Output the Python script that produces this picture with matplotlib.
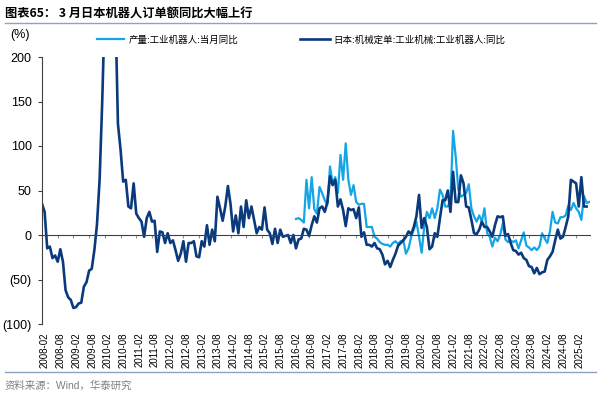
import numpy as np
import pandas as pd
import matplotlib
matplotlib.use('Agg')
import matplotlib.pyplot as plt
from matplotlib.lines import Line2D
from matplotlib.transforms import ScaledTranslation

plt.rcParams['font.family'] = ['Liberation Sans', 'Noto Sans CJK SC']

title = '图表65： 3 月日本机器人订单额同比大幅上行'
source = '资料来源：Wind，华泰研究'
light_name = '产量:工业机器人:当月同比'
dark_name = '日本:机械定单:工业机械:工业机器人:同比'

# monthly series, first month given below
dark_start = '2008-02'
light_start = '2016-03'

dark = [35, 26, -15, -13, -26, -23, -30, -16, -30, -62,
        -70, -73, -82, -81, -77, -76, -58, -53, -40, -38,
        -17, 12, 62, 150, 260, 330, 340, 310, 260, 125,
        96, 60, 62, 32, 30, 58, 24, 19, 15, -2,
        19, 26, 15, 16, -19, 4, 3, -9, 2, -9,
        -6, -17, -29, -21, -7, -30, -9, -9, -7, -24,
        -25, -7, -13, 11, -11, 6, -7, 43, 30, 16,
        32, 55, 35, 4, 22, 2, 32, 9, 39, 19,
        32, 17, 2, 9, 6, 31, 6, 2, -10, 7,
        -9, 6, -2, -1, 0, -9, 0, -15, -5, -4,
        7, 6, -1, 11, 21, 14, 30, 32, 26, 37,
        66, 56, 62, 32, 40, 28, 10, 30, 28, 29,
        19, 31, -2, 3, -11, -11, -13, -9, -15, -16,
        -22, -33, -29, -36, -28, -21, -12, -9, -6, -2,
        4, 1, 9, 21, 45, 8, 19, 9, -16, -13,
        2, -2, 19, 39, 39, 50, 26, 71, 37, 37,
        67, 58, 32, 31, 17, 2, 1, 6, 15, 9,
        9, 4, -2, 11, 21, 20, 21, -1, 1, -9,
        -17, -18, -22, -20, -26, -28, -35, -36, -43, -37,
        -44, -42, -41, -28, -24, -19, -6, 6, -4, -2,
        9, 21, 62, 60, 58, 32, 65, 32, 32]

light = [18, 19, 17, 14, 62, 30, 65, 29, 24, 54,
         47, 39, 34, 77, 58, 65, 47, 90, 62, 103,
         62, 45, 56, 37, 34, 35, 35, 9, 9, 9,
         -2, -4, -8, -10, -11, -11, -13, -9, -7, -10,
         -7, -6, -21, -15, -2, 6, 15, -2, -20, 10,
         26, 19, 30, 19, 30, 51, 45, 32, 32, 39,
         117, 88, 51, 43, 45, 47, 57, 30, 21, 15,
         22, 15, 30, 2, -2, -13, -3, -7, 0, 13,
         -5, -8, -6, -8, -6, -15, -6, 3, -12, -14,
         -17, -14, -17, -13, 2, -4, -9, 4, 26, 14,
         13, 20, 20, 22, 33, 28, 36, 30, 26, 17,
         44, 36, 37]

tick_labels = ['2008-02', '2008-08', '2009-02', '2009-08', '2010-02', '2010-08',
               '2011-02', '2011-08', '2012-02', '2012-08', '2013-02', '2013-08',
               '2014-02', '2014-08', '2015-02', '2015-08', '2016-02', '2016-08',
               '2017-02', '2017-08', '2018-02', '2018-08', '2019-02', '2019-08',
               '2020-02', '2020-08', '2021-02', '2021-08', '2022-02', '2022-08',
               '2023-02', '2023-08', '2024-02', '2024-08', '2025-02']

y_ticks = [-100, -50, 0, 50, 100, 150, 200]

base = pd.Period(dark_start, freq='M')
dark_x = np.arange(len(dark))
light_x = (pd.Period(light_start, freq='M') - base).n + np.arange(len(light))
tick_x = [(pd.Period(t, freq='M') - base).n for t in tick_labels]

fig = plt.figure(figsize=(6.01, 3.94), dpi=100)
ax = fig.add_axes([42/601, 70/394, 548/601, 267/394])

ax.plot(light_x, light, color='#14A5E6', lw=1.6, label=light_name)
ax.plot(dark_x, dark, color='#0A3A7C', lw=1.9, label=dark_name)

ax.set_xlim(0, 209.3)
ax.set_ylim(-100, 200)

ax.spines['top'].set_visible(False)
ax.spines['right'].set_visible(False)
ax.spines['left'].set_color('#404040')
ax.spines['left'].set_linewidth(0.8)
ax.spines['bottom'].set_position(('data', 0))
ax.spines['bottom'].set_color('#404040')
ax.spines['bottom'].set_linewidth(0.8)

ax.set_yticks(y_ticks)
ax.set_yticklabels([f'({-v})' if v < 0 else str(v) for v in y_ticks])
ax.tick_params(axis='y', direction='out', length=3, width=0.8, color='#404040',
               labelsize=9, pad=4.5)
ax.set_xticks(tick_x)
ax.tick_params(axis='x', direction='out', length=2.5, width=0.8, color='#909090',
               labelbottom=False)

sec = ax.secondary_xaxis(0.0)
sec.set_xticks(tick_x)
sec.set_xticklabels(tick_labels, rotation=90, fontsize=7)
sec.tick_params(length=0, pad=6)
sec.spines['bottom'].set_visible(False)
for lab in sec.get_xticklabels():
    lab.set_transform(lab.get_transform() + ScaledTranslation(3/100, 0, fig.dpi_scale_trans))

h = ax.get_lines()
fig.legend([h[0]], [light_name], loc='center left', bbox_to_anchor=(97/601, 1-40/394),
           frameon=False, fontsize=6.8, handlelength=2.9, handletextpad=0.5,
           borderpad=0, borderaxespad=0)
fig.legend([h[1]], [dark_name], loc='center left', bbox_to_anchor=(300/601, 1-40/394),
           frameon=False, fontsize=6.8, handlelength=3.2, handletextpad=0.3,
           borderpad=0, borderaxespad=0)

fig.text(5/601, 1-14/394, title, fontsize=8.8, fontweight='bold', va='center',
         family=['Noto Sans CJK SC', 'DejaVu Sans'])
fig.text(10/601, 1-35/394, '(%)', fontsize=9, va='center')
fig.text(5/601, 1-386/394, source, fontsize=7.5, color='#7f7f7f', va='center')

fig.add_artist(Line2D([5/601, 596/601], [1-23/394, 1-23/394], color='#8DA2C4', lw=1))
fig.add_artist(Line2D([5/601, 596/601], [1-372/394, 1-372/394], color='#8DA2C4', lw=1))

fig.savefig('out.png', dpi=100)
